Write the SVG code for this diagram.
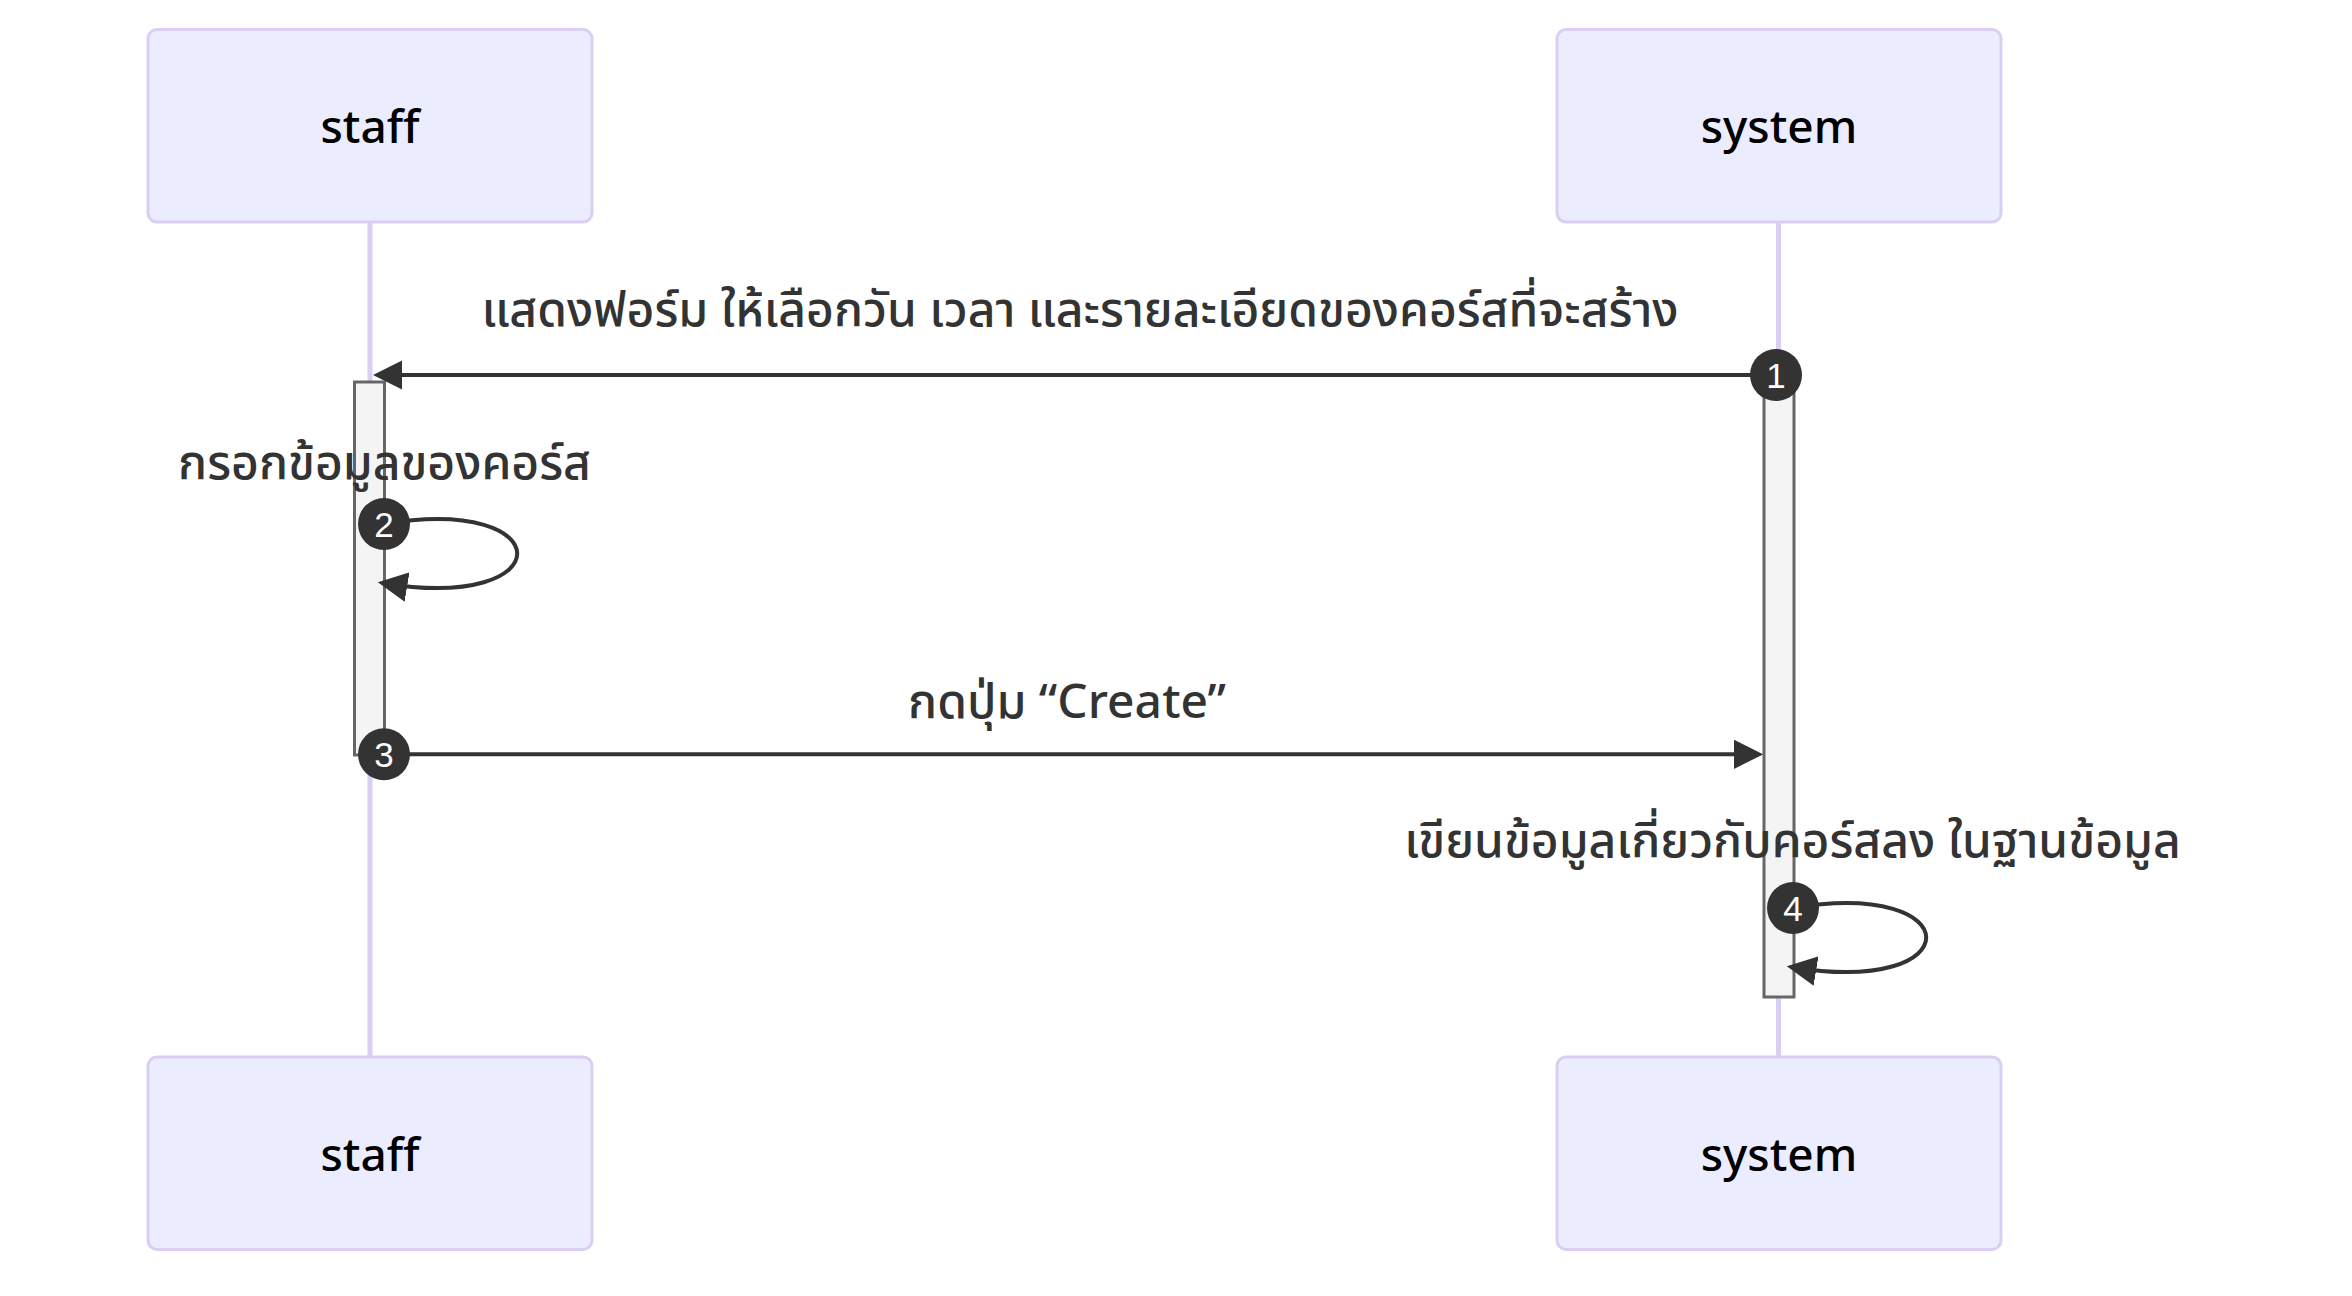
<svg xmlns="http://www.w3.org/2000/svg" width="2352" height="1296" viewBox="0 0 2352 1296">
<style>
.actor{fill:#ECECFF;stroke:#DACEF3;stroke-width:3}
.actor-label{font-family:"Noto Sans","Open Sans",sans-serif;font-size:46px;font-weight:500;fill:#000;text-anchor:middle}
.lifeline{stroke:#DACEF3;stroke-width:5}
.activation{fill:#F4F4F4;stroke:#666;stroke-width:3}
.msg{stroke:#333;stroke-width:4;fill:none}
.msg-text{font-family:"Noto Sans Thai","Noto Sans","Open Sans",sans-serif;font-size:48px;font-weight:500;fill:#333;text-anchor:middle}
.badge{fill:#333}
.badge-text{font-family:"Liberation Sans",Arial,sans-serif;font-size:35px;fill:#fff;text-anchor:middle}
</style>
<defs>
<marker id="arrowhead" viewBox="0 0 10 10" refX="7.9" refY="5" markerUnits="userSpaceOnUse" markerWidth="29.6" markerHeight="29.6" orient="auto">
<path d="M 0 0 L 10 5 L 0 10 z" fill="#333"/>
</marker>
</defs>
<rect width="2352" height="1296" fill="#fff"/>
<g id="lifelines">
<line class="lifeline" x1="370" y1="222" x2="370" y2="1057"/>
<line class="lifeline" x1="1778.5" y1="222" x2="1778.5" y2="1057"/>
</g>
<g id="staff-top">
<rect class="actor" x="148" y="29.6" width="444" height="192.4" rx="9" ry="9"/>
<text class="actor-label" x="370" y="143">staff</text>
</g>
<g id="system-top">
<rect class="actor" x="1557" y="29.6" width="444" height="192.4" rx="9" ry="9"/>
<text class="actor-label" x="1779" y="143">system</text>
</g>
<g id="staff-bottom">
<rect class="actor" x="148" y="1057" width="444" height="192.4" rx="9" ry="9"/>
<text class="actor-label" x="370" y="1171">staff</text>
</g>
<g id="system-bottom">
<rect class="actor" x="1557" y="1057" width="444" height="192.4" rx="9" ry="9"/>
<text class="actor-label" x="1779" y="1171">system</text>
</g>
<g id="activations">
<rect class="activation" x="354.5" y="382" width="30" height="373"/>
<rect class="activation" x="1764" y="382" width="30" height="615"/>
</g>
<g id="connectors">
<line class="msg" x1="1776" y1="375" x2="379" y2="375" marker-end="url(#arrowhead)"/>
<path class="msg" d="M 384,524 C 561.6,494.4 561.6,612.8 384,583.2" marker-end="url(#arrowhead)"/>
<line class="msg" x1="384" y1="754.3" x2="1757" y2="754.3" marker-end="url(#arrowhead)"/>
<path class="msg" d="M 1793,908 C 1970.6,878.4 1970.6,996.8 1793,967.2" marker-end="url(#arrowhead)"/>
</g>
<g id="labels">
<text class="msg-text" x="1080" y="326">แสดงฟอร์ม ให้เลือกวัน เวลา และรายละเอียดของคอร์สที่จะสร้าง</text>
<text class="msg-text" x="384.5" y="479">กรอกข้อมูลของคอร์ส</text>
<text class="msg-text" x="1067" y="718">กดปุ่ม “Create”</text>
<text class="msg-text" x="1792.5" y="857">เขียนข้อมูลเกี่ยวกับคอร์สลง ในฐานข้อมูล</text>
</g>
<g id="sequence-numbers">
<g id="seq1"><circle class="badge" cx="1776" cy="375" r="26"/><text class="badge-text" x="1776" y="387.5">1</text></g>
<g id="seq2"><circle class="badge" cx="384" cy="524" r="26"/><text class="badge-text" x="384" y="536.5">2</text></g>
<g id="seq3"><circle class="badge" cx="384" cy="754.3" r="26"/><text class="badge-text" x="384" y="766.8">3</text></g>
<g id="seq4"><circle class="badge" cx="1793" cy="908" r="26"/><text class="badge-text" x="1793" y="920.5">4</text></g>
</g>
</svg>
